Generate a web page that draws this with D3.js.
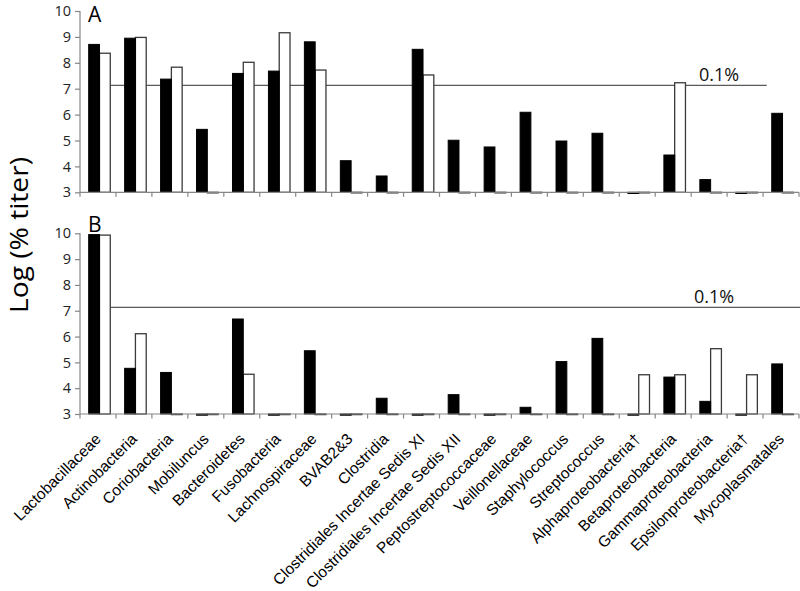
<!DOCTYPE html>
<html>
<head>
<meta charset="utf-8">
<script src="https://cdn.jsdelivr.net/npm/d3@7"></script>
<style>
  html, body { margin: 0; padding: 0; background: #fff; }
  svg { display: block; }
</style>
</head>
<body>
<svg id="chart" width="800" height="591"></svg>
<script>
const categories = [
  "Lactobacillaceae", "Actinobacteria", "Coriobacteria", "Mobiluncus", "Bacteroidetes",
  "Fusobacteria", "Lachnospiraceae", "BVAB2&3", "Clostridia",
  "Clostridiales Incertae Sedis XI", "Clostridiales Incertae Sedis XII",
  "Peptostreptococcaceae", "Veillonellaceae", "Staphylococcus", "Streptococcus",
  "Alphaproteobacteria\u2020", "Betaproteobacteria", "Gammaproteobacteria",
  "Epsilonproteobacteria\u2020", "Mycoplasmatales"
];

// Panel A
const panelABlack = [8.71, 8.95, 7.37, 5.43, 7.59, 7.68, 8.81, 4.22, 3.63, 8.52, 5.01, 4.75, 6.09, 4.98, 5.28, 3.0, 4.44, 3.49, 3.0, 6.05];
const panelAWhite = [8.37, 8.98, 7.83, 3.0, 8.02, 9.16, 7.72, 3.0, 3.0, 7.53, 3.0, 3.0, 3.0, 3.0, 3.0, 3.0, 7.23, 3.0, 3.0, 3.0];

// Panel B
const panelBBlack = [9.95, 4.77, 4.61, 3.0, 6.68, 3.0, 5.45, 3.0, 3.61, 3.0, 3.75, 3.0, 3.26, 5.03, 5.93, 3.0, 4.43, 3.49, 3.0, 4.94];
const panelBWhite = [9.93, 6.11, 3.0, 3.0, 4.54, 3.0, 3.0, 3.0, 3.0, 3.0, 3.0, 3.0, 3.0, 3.0, 3.0, 4.52, 4.52, 5.53, 4.52, 3.0];

const yTicks = [3, 4, 5, 6, 7, 8, 9, 10];
const thresholdValue = 7.13;
const thresholdLabel = "0.1%";
const panelLabels = ["A", "B"];
const yAxisTitle = "Log (% titer)";

const svg = d3.select("#chart");
const axisColor = "#868686";
const numFont = "'Open Sans', 'Noto Sans', sans-serif";

const x = d3.scaleBand().domain(categories).range([80, 799]).paddingInner(0.4).paddingOuter(0.2);
const sub = d3.scaleBand().domain(["black", "white"]).range([0, x.bandwidth()]);

const panels = [
  { label: panelLabels[0], black: panelABlack, white: panelAWhite, top: 11, bottom: 192.3, lineEndOffset: -5, labelFont: 21, labelY: 22 },
  { label: panelLabels[1], black: panelBBlack, white: panelBWhite, top: 233.3, bottom: 414, lineEndOffset: x.bandwidth() + 8, labelFont: 21, labelY: 232 }
];

panels.forEach((p, pi) => {
  const y = d3.scaleLinear().domain([3, 10]).range([p.bottom, p.top]);
  const g = svg.append("g");

  // threshold line (behind bars)
  const lx1 = x(categories[0]) + x.bandwidth() + 1.5;
  const lx2 = x(categories[categories.length - 1]) + 1.5 + p.lineEndOffset;
  g.append("line")
    .attr("x1", lx1).attr("x2", lx2)
    .attr("y1", y(thresholdValue)).attr("y2", y(thresholdValue))
    .attr("stroke", "#5a5a5a").attr("stroke-width", 1.3);

  g.append("text")
    .attr("x", pi === 0 ? 699 : 694)
    .attr("y", y(thresholdValue) - 4.5)
    .attr("font-family", numFont)
    .attr("font-size", 18)
    .attr("fill", "#111")
    .text(thresholdLabel);

  // bars
  const rows = categories.map((c, i) => ({ c, black: p.black[i], white: p.white[i] }));
  const groups = g.selectAll("g.grp").data(rows).join("g")
    .attr("class", "grp")
    .attr("transform", d => `translate(${x(d.c) + 1.5},0)`);

  groups.append("rect")
    .attr("x", sub("white"))
    .attr("width", sub.bandwidth())
    .attr("y", d => y(d.white))
    .attr("height", d => Math.max(0.6, y(3) - y(d.white)))
    .attr("fill", "#fff")
    .attr("stroke", "#3a3a3a")
    .attr("stroke-width", 1.3);

  groups.append("rect")
    .attr("x", sub("black"))
    .attr("width", sub.bandwidth())
    .attr("y", d => y(d.black))
    .attr("height", d => Math.max(1.2, y(3) - y(d.black)))
    .attr("fill", "#000")
    .attr("stroke", "#000")
    .attr("stroke-width", 1);

  // y axis
  const yAxis = d3.axisLeft(y).tickValues(yTicks).tickSize(5).tickPadding(4).tickFormat(d3.format("d"));
  const ya = g.append("g").attr("transform", "translate(80,0)").call(yAxis);
  ya.select(".domain").attr("stroke", axisColor).attr("stroke-width", 1.2).attr("d", `M0,${y(10)}V${y(3)}`);
  ya.selectAll(".tick line").attr("stroke", axisColor).attr("stroke-width", 1.2);
  ya.selectAll(".tick text").attr("font-family", numFont).attr("font-size", 14.5).attr("fill", "#222");

  // x axis (category boundaries as ticks)
  g.append("line")
    .attr("x1", 80).attr("x2", 799)
    .attr("y1", y(3)).attr("y2", y(3))
    .attr("stroke", axisColor).attr("stroke-width", 1.2);
  const bounds = categories.map(c => x(c) - x.step() * x.paddingInner() / 2).concat([x(categories[categories.length - 1]) + x.bandwidth() + x.step() * x.paddingInner() / 2]);
  g.selectAll("line.xt").data(bounds).join("line")
    .attr("class", "xt")
    .attr("x1", d => d).attr("x2", d => d)
    .attr("y1", y(3)).attr("y2", y(3) + 4.5)
    .attr("stroke", axisColor).attr("stroke-width", 1.2);

  // panel label
  g.append("text")
    .attr("x", 88)
    .attr("y", p.labelY)
    .attr("font-family", numFont)
    .attr("font-size", p.labelFont)
    .attr("fill", "#000")
    .text(p.label);

  // category labels under the lower panel
  if (pi === 1) {
    g.selectAll("text.cat").data(categories).join("text")
      .attr("class", "cat")
      .attr("text-anchor", "end")
      .attr("font-family", "'Liberation Sans', 'Arimo', Arial, Helvetica, sans-serif")
      .attr("font-size", 15.5)
      .attr("fill", "#000")
      .attr("transform", c => `translate(${x(c) + x.bandwidth() / 2 + 4},${y(3) + 26}) rotate(-45)`)
      .text(c => c);
  }
});

// y axis title
svg.append("text")
  .attr("transform", "translate(28,235) rotate(-90)")
  .attr("text-anchor", "middle")
  .attr("font-family", numFont)
  .attr("font-size", 25)
  .attr("textLength", 156)
  .attr("lengthAdjust", "spacingAndGlyphs")
  .attr("fill", "#000")
  .text(yAxisTitle);
</script>
</body>
</html>
